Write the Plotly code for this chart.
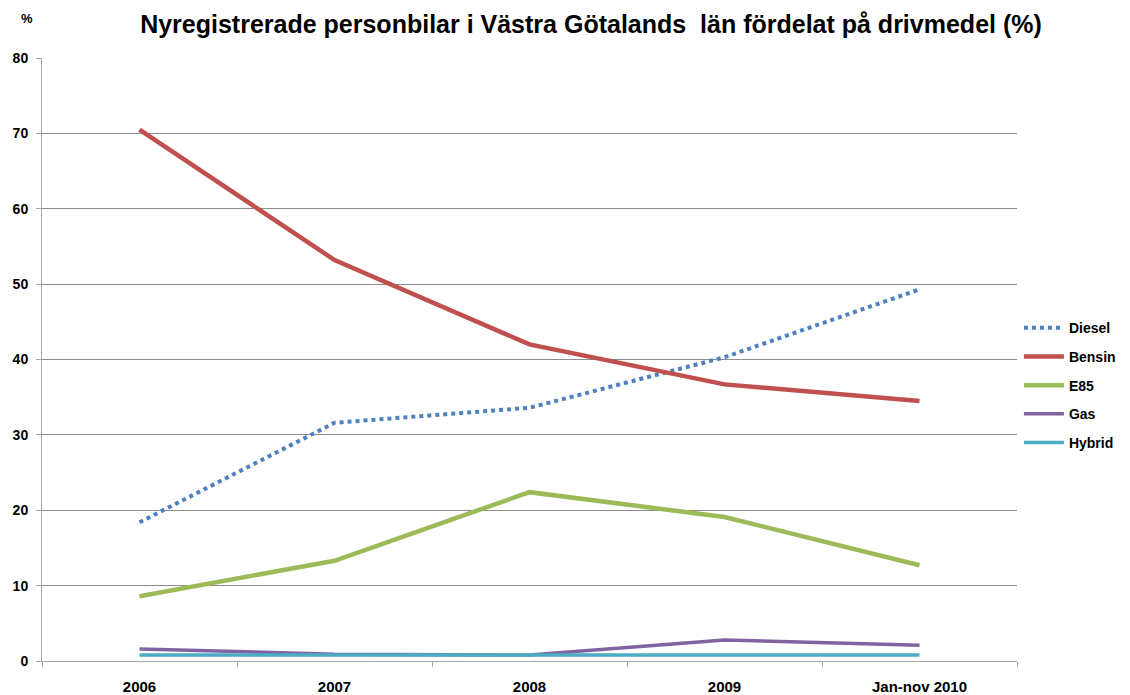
import plotly.graph_objects as go

categories = ["2006", "2007", "2008", "2009", "Jan-nov 2010"]
diesel = [18.4, 31.6, 33.6, 40.3, 49.3]
bensin = [70.5, 53.2, 42.0, 36.7, 34.5]
e85 = [8.6, 13.3, 22.4, 19.1, 12.7]
gas = [1.6, 0.9, 0.8, 2.8, 2.1]
hybrid = [0.8, 0.8, 0.9, 0.9, 0.8]

series = [
    ("Diesel", diesel, "#4F81BD", "dot", 4),
    ("Bensin", bensin, "#C0504D", "solid", 4.5),
    ("E85", e85, "#9BBB59", "solid", 4.5),
    ("Gas", gas, "#8064A2", "solid", 3.5),
    ("Hybrid", hybrid, "#4BACC6", "solid", 3.5),
]

fig = go.Figure()
for name, vals, color, dash, w in series:
    fig.add_trace(go.Scatter(x=categories, y=vals, name="<b>" + name + "</b>", mode="lines",
                             legendgroup=name,
                             line=dict(color=color, dash=dash, width=w)))

font_family = "Liberation Sans, Arial, sans-serif"
# page body has an 8px margin, so the figure is sized 8px smaller
fig.update_layout(
    width=1122, height=687,
    margin=dict(l=34, r=113, t=50, b=34),
    paper_bgcolor="white", plot_bgcolor="white",
    font=dict(family=font_family, size=12, color="black"),
    title=dict(text="<b>Nyregistrerade personbilar i Västra Götalands  län fördelat på drivmedel (%)</b>",
               x=0.5196, xanchor="center", y=0.977, yanchor="middle", yref="container",
               font=dict(size=25, family=font_family)),
    legend=dict(xref="container", yref="container", x=0.9010, xanchor="left",
                y=0.451, yanchor="middle",
                font=dict(size=14, family=font_family), tracegroupgap=7.5,
                itemwidth=40, bgcolor="rgba(0,0,0,0)"),
    showlegend=True,
)
fig.update_xaxes(type="category", range=[-0.5, 4.5], showgrid=False, showline=True,
                 linecolor="#A6A6A6", linewidth=1, ticks="outside", tickson="boundaries",
                 ticklen=5, tickcolor="#A6A6A6", tickfont=dict(size=15, family=font_family),
                 tickprefix="<b>", ticksuffix="</b>", automargin=False, ticklabelstandoff=12)
fig.update_yaxes(range=[0, 80], dtick=10, showgrid=True, gridcolor="#8C8C8C", gridwidth=1,
                 showline=True, linecolor="#A6A6A6", linewidth=1, ticks="outside",
                 ticklen=5, tickcolor="#A6A6A6", tickfont=dict(size=14, family=font_family),
                 tickprefix="<b>", ticksuffix="</b>", zeroline=False, automargin=False,
                 ticklabelstandoff=5)
fig.add_annotation(text="<b>%</b>", xref="paper", yref="paper", x=-0.024, y=1.082,
                   showarrow=False, font=dict(size=13, family=font_family))

fig.write_html("out.html")
